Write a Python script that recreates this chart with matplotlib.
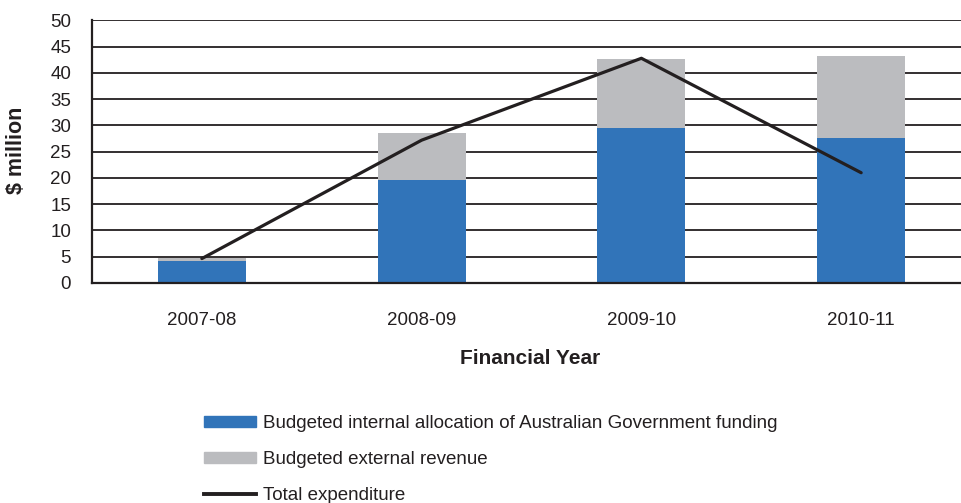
import numpy as np
import matplotlib.pyplot as plt
from matplotlib.lines import Line2D
from matplotlib.patches import Patch

plt.rcParams['font.family'] = ['Liberation Sans', 'DejaVu Sans']

years = ['2007-08', '2008-09', '2009-10', '2010-11']
internal_funding = [4.2, 19.6, 29.6, 27.6]
external_revenue = [0.65, 8.9, 13.0, 15.7]
total_expenditure = [4.65, 27.2, 42.8, 21.0]

blue = '#3174B9'
grey = '#BBBCBF'
dark = '#231F20'

fig = plt.figure(figsize=(9.62, 5.03), dpi=100)
ax = fig.add_axes([0.0956, 0.4374, 0.9138, 0.5219])

x = np.arange(len(years))
ax.bar(x, internal_funding, width=0.4, color=blue, zorder=3)
ax.bar(x, external_revenue, width=0.4, bottom=internal_funding, color=grey, zorder=3)
ax.plot(x, total_expenditure, color=dark, lw=2.3, zorder=4, solid_capstyle='round')

ax.set_xlim(-0.5, 3.5)
ax.set_ylim(0, 50)
ax.set_yticks(range(0, 51, 5))
ax.set_xticks(x)
ax.set_xticklabels(years)
ax.tick_params(length=0, labelsize=13.5, colors=dark)
ax.tick_params(axis='y', pad=15)
ax.tick_params(axis='x', pad=21)
ax.yaxis.grid(True, color=dark, lw=1.3, zorder=1)
ax.set_axisbelow(True)

for side in ('top', 'right'):
    ax.spines[side].set_visible(False)
for side in ('left', 'bottom'):
    ax.spines[side].set_color(dark)
    ax.spines[side].set_linewidth(1.6)
    ax.spines[side].set_zorder(5)

fig.text(0.551, 0.288, 'Financial Year', fontsize=15, fontweight='bold',
         color=dark, ha='center', va='center')
fig.text(0.017, 0.702, '$ million', fontsize=15.5, fontweight='bold',
         color=dark, ha='center', va='center', rotation=90)

handles = [
    Patch(color=blue, label='Budgeted internal allocation of Australian Government funding'),
    Patch(color=grey, label='Budgeted external revenue'),
    Line2D([], [], color=dark, lw=2.8, label='Total expenditure'),
]
fig.legend(handles=handles, loc='upper left', bbox_to_anchor=(0.212, 0.174),
           frameon=False, fontsize=13.5, handlelength=2.75, handleheight=0.55,
           handletextpad=0.38, labelspacing=1.0, borderpad=0, borderaxespad=0,
           labelcolor=dark)

fig.savefig('out.png', dpi=100)
